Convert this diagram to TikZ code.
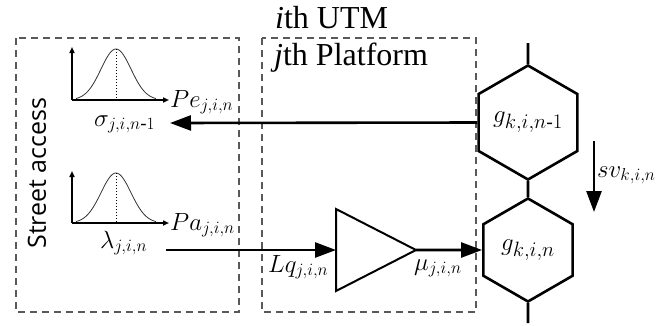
\documentclass[tikz,border=0pt]{standalone}
\usepackage{amsmath}
\usepackage{fontspec}
\setmainfont{Liberation Serif}
\newfontfamily\streetfont{Open Sans}
\usetikzlibrary{arrows.meta,shapes.geometric}
\begin{document}
\begin{tikzpicture}[x=1pt,y=-1pt,
  box/.style={draw=black!65, line width=1.6pt, dash pattern=on 7pt off 5pt},
  conn/.style={line width=2.6pt},
  arr/.style={conn, -{Triangle[length=21pt,width=15pt]}},
  axis/.style={line width=1.5pt, -{Triangle[length=6pt,width=5pt]}},
  hex/.style={draw, line width=2.6pt, regular polygon, regular polygon sides=6,
    shape border rotate=30, minimum size=103pt, inner sep=0pt,
    font=\fontsize{28}{32}\selectfont},
  lbl/.style={inner sep=0pt, font=\fontsize{27}{31}\selectfont},
  ttl/.style={inner sep=0pt, font=\fontsize{32}{36}\selectfont},
]
\useasboundingbox (0,0) rectangle (665,325);

% dashed boxes
\draw[box] (16,38) rectangle (239,312);
\draw[box] (262,38) rectangle (476,312);

% titles
\node[ttl, anchor=base west] (utm) at (275,28) {\textit{i}th UTM};
\node[ttl, anchor=base west] (plat) at (274,65) {\textit{j}th Platform};
\node[rotate=90, inner sep=0pt, font=\streetfont\fontsize{25}{29}\selectfont] (street) at (37,173) {Street access};

% gaussians
\coordinate (o1) at (72,100);
\coordinate (v1) at (72,47);
\coordinate (h1) at (169,100);
\draw[axis] (o1) -- (v1);
\draw[axis] (o1) -- (h1);
\draw[line width=0.8pt, black!80] plot[domain=-40:40, samples=60] ({116+\x},{100-51*exp(-((\x/15)^2)/2)});
\draw[dotted, line width=1pt] (116,49) -- (116,100);

\coordinate (o2) at (72,223);
\coordinate (v2) at (72,171);
\coordinate (h2) at (169,223);
\draw[axis] (o2) -- (v2);
\draw[axis] (o2) -- (h2);
\draw[line width=0.8pt, black!80] plot[domain=-40:40, samples=60] ({116+\x},{223-50*exp(-((\x/15)^2)/2)});
\draw[dotted, line width=1pt] (116,173) -- (116,223);

% labels
\node[lbl, anchor=base west] (Pe) at (170,107) {$Pe_{j,i,n}$};
\node[lbl, anchor=base west] (sig) at (94,126) {$\sigma_{j,i,n\text{-}1}$};
\node[lbl, anchor=base west] (Pa) at (170,230) {$Pa_{j,i,n}$};
\node[lbl, anchor=base west] (lam) at (100,248) {$\lambda_{j,i,n}$};
\node[lbl, anchor=base west] (Lq) at (268,272) {$Lq_{j,i,n}$};
\node[lbl, anchor=base west] (mu) at (414,270) {$\mu_{j,i,n}$};
\node[lbl, anchor=base west] (sv) at (597,177) {$sv_{k,i,n}$};

% hexagons
\node[hex] (gA) at (528,122.5) {$g_{k,i,n\text{-}1}$};
\node[hex] (gB) at (528,250) {$g_{k,i,n}$};
\coordinate (tA) at (528,43);
\coordinate (bB) at (528,323);
\draw[conn] (tA) -- (gA.north);
\draw[conn] (gA.south) -- (gB.north);
\draw[conn] (gB.south) -- (bB);

% triangle
\coordinate (trL) at (336,250);
\coordinate (trT) at (416,250);
\draw[line width=2pt, line join=miter] (336,209) -- (trT) -- (336,291) -- cycle;

% connectors
\coordinate (sigend) at (170,123);
\draw[arr] (gA.west) -- (sigend);
\coordinate (lamstart) at (166,250);
\draw[arr] (lamstart) -- (trL);
\draw[arr] (trT) -- (gB.west);
\coordinate (svA) at (594,141);
\coordinate (svB) at (594,212);
\draw[arr] (svA) -- (svB);
\end{tikzpicture}
\end{document}
